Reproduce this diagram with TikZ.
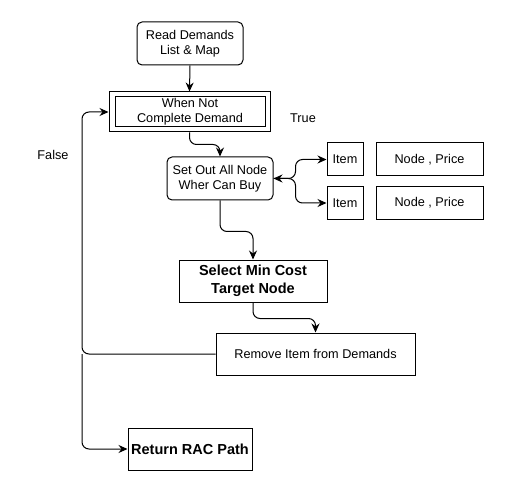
\documentclass[tikz,border=0pt]{standalone}
\usepackage{fontspec}
\setmainfont{Liberation Sans}
\usetikzlibrary{arrows.meta}
\begin{document}
\begin{tikzpicture}[x=1pt,y=-1pt,
  base/.style={draw, line width=1pt, align=center, inner sep=0pt,
    font=\fontsize{12.7}{15}\selectfont},
  rbox/.style={base, rounded corners=5pt},
  sbox/.style={base},
  bbox/.style={base, font=\fontsize{14.5}{18}\selectfont\bfseries},
  conn/.style={line width=1pt, rounded corners=7pt},
  arr/.style={conn, -{Stealth[length=9pt,width=8pt,inset=3pt]}},
  lbl/.style={font=\fontsize{12.7}{15}\selectfont, inner sep=0pt}]
\useasboundingbox (0,0) rectangle (505,502);
\node[rbox, minimum width=106pt, minimum height=43pt] (read) at (190,43.5) {Read Demands\\List \& Map};
\node[sbox, minimum width=161pt, minimum height=40pt] (wnouter) at (189.5,112) {};
\node[sbox, minimum width=150pt, minimum height=30pt] (wn) at (190,112) {When Not\\Complete Demand};
\node[rbox, minimum width=106pt, minimum height=43pt] (setout) at (220,178.5) {Set Out All Node\\Wher Can Buy};
\node[sbox, minimum width=36pt, minimum height=33pt] (item1) at (345,159.5) {Item};
\node[sbox, minimum width=36pt, minimum height=33pt] (item2) at (345,203) {Item};
\node[sbox, minimum width=107pt, minimum height=33pt] (np1) at (429.5,159.5) {Node , Price};
\node[sbox, minimum width=107pt, minimum height=33pt] (np2) at (429.5,203) {Node , Price};
\node[bbox, minimum width=148pt, minimum height=42pt] (select) at (253,281) {Select Min Cost\\Target Node};
\node[sbox, minimum width=199pt, minimum height=42pt] (remove) at (315.5,354) {Remove Item from Demands};
\node[bbox, minimum width=124pt, minimum height=42pt] (return) at (190,449) {Return RAC Path};
\node[lbl] (true) at (303,118) {True};
\node[lbl] (false) at (53,155) {False};
\coordinate (lx) at (82,0);
\draw[arr] (read.south) -- (wnouter.north);
\draw[arr] (wnouter.south) -- ++(0,12) -| (setout.north);
\draw[arr] (setout.south) -- ++(0,31) -| (select.north);
\draw[arr] (select.south) -- ++(0,16) -| (remove.north);
\draw[arr] (remove.west) -| (lx |- wnouter.west) -- (wnouter.west);
\draw[arr] (lx |- remove.west) |- (return.west);
\draw[arr, {Stealth[length=9pt,width=8pt,inset=3pt]}-{Stealth[length=9pt,width=8pt,inset=3pt]}] (setout.east) -- ++(22,0) |- (item1.west);
\draw[arr] (setout.east) -- ++(22,0) |- (item2.west);
\end{tikzpicture}
\end{document}
